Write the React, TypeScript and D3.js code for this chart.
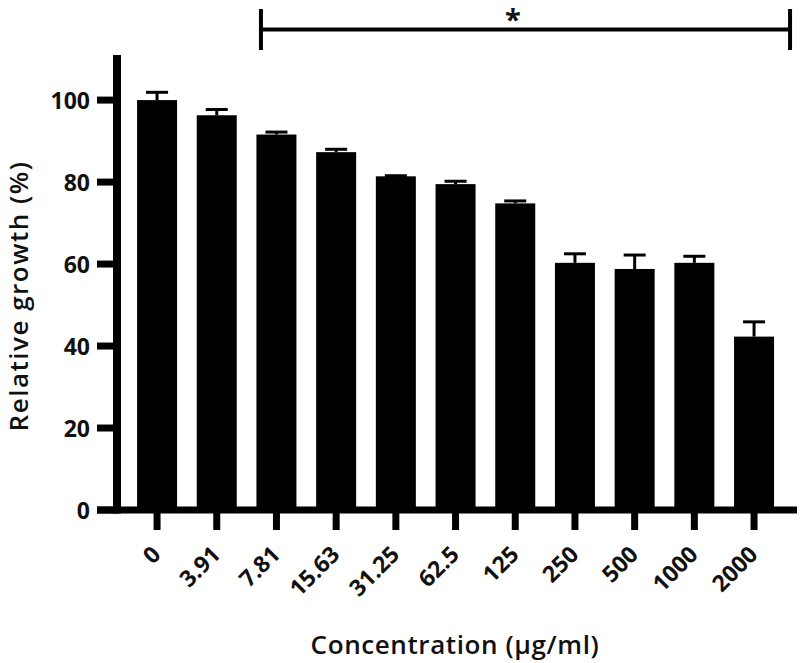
import React from "react";
import * as d3 from "d3";

const categories = ["0", "3.91", "7.81", "15.63", "31.25", "62.5", "125", "250", "500", "1000", "2000"];
const means = [100.0, 96.3, 91.6, 87.3, 81.4, 79.5, 74.8, 60.3, 58.8, 60.3, 42.3];
const errors = [1.9, 1.4, 0.6, 0.7, 0.15, 0.7, 0.6, 2.2, 3.4, 1.6, 3.6];
const yTicks = [0, 20, 40, 60, 80, 100];
const xTitle = "Concentration (µg/ml)";
const yTitle = "Relative growth (%)";
const sigLabel = "*";

const W = 800;
const H = 663;
const FONT = "'Open Sans', 'DejaVu Sans', sans-serif";

export default function App() {
  const x = d3
    .scaleBand<string>()
    .domain(categories)
    .range([127.2, 783.9])
    .paddingInner(0.33)
    .paddingOuter(0.165);
  const y = d3.scaleLinear().domain([0, 111]).range([510, 55]);
  const bw = x.bandwidth();

  const axisX = 117;
  const y0 = y(0);

  const sigLeft = (x("7.81") as number) + 4.5;
  const sigRight = (x("2000") as number) + bw + 16;
  const sigY = 29.5;

  return (
    <svg
      width={W}
      height={H}
      style={{ position: "absolute", left: 0, top: 0, background: "#fff" }}
      fontFamily={FONT}
    >
      <rect x={0} y={0} width={W} height={H} fill="#fff" />
      {/* bars */}
      {categories.map((c, i) => (
        <rect
          key={c}
          x={x(c)}
          y={y(means[i])}
          width={bw}
          height={y0 - y(means[i])}
          fill="#000"
        />
      ))}
      {/* error bars */}
      {categories.map((c, i) => {
        const cx = (x(c) as number) + bw / 2;
        const top = y(means[i] + errors[i]);
        return (
          <g key={"e" + c} stroke="#000" strokeWidth={3}>
            <line x1={cx} x2={cx} y1={y(means[i])} y2={top} />
            <line x1={cx - 11} x2={cx + 11} y1={top} y2={top} />
          </g>
        );
      })}
      {/* y axis */}
      <line x1={axisX} x2={axisX} y1={y(111)} y2={y0 + 3.5} stroke="#000" strokeWidth={8} />
      {yTicks.map((t) => (
        <g key={"yt" + t}>
          <line x1={97} x2={axisX} y1={y(t)} y2={y(t)} stroke="#000" strokeWidth={7} />
          <text
            x={90}
            y={y(t)}
            textAnchor="end"
            dominantBaseline="central"
            fontSize={23}
            fontWeight={700}
            fill="#111"
          >
            {t}
          </text>
        </g>
      ))}
      {/* x axis */}
      <line x1={97} x2={797} y1={y0} y2={y0} stroke="#000" strokeWidth={7} />
      {categories.map((c) => {
        const cx = (x(c) as number) + bw / 2;
        return (
          <g key={"xt" + c}>
            <line x1={cx} x2={cx} y1={y0} y2={530} stroke="#000" strokeWidth={7} />
            <text
              transform={`translate(${cx + 5},556) rotate(-45)`}
              textAnchor="end"
              fontSize={23}
              fontWeight={700}
              fill="#111"
            >
              {c}
            </text>
          </g>
        );
      })}
      {/* titles */}
      <text
        x={455}
        y={654}
        textAnchor="middle"
        fontSize={26}
        letterSpacing={0.6}
        fontWeight={600}
        fill="#111"
      >
        {xTitle}
      </text>
      <text
        transform={`translate(28,296) rotate(-90)`}
        textAnchor="middle"
        fontSize={26}
        letterSpacing={1.5}
        fontWeight={600}
        fill="#111"
      >
        {yTitle}
      </text>
      {/* significance bracket */}
      <g stroke="#000" strokeWidth={4}>
        <line x1={sigLeft} x2={sigRight} y1={sigY} y2={sigY} />
        <line x1={sigLeft} x2={sigLeft} y1={9} y2={50} />
        <line x1={sigRight} x2={sigRight} y1={9} y2={50} />
      </g>
      <text x={513} y={30} textAnchor="middle" fontSize={29} fontWeight={700} fill="#111">
        {sigLabel}
      </text>
    </svg>
  );
}
